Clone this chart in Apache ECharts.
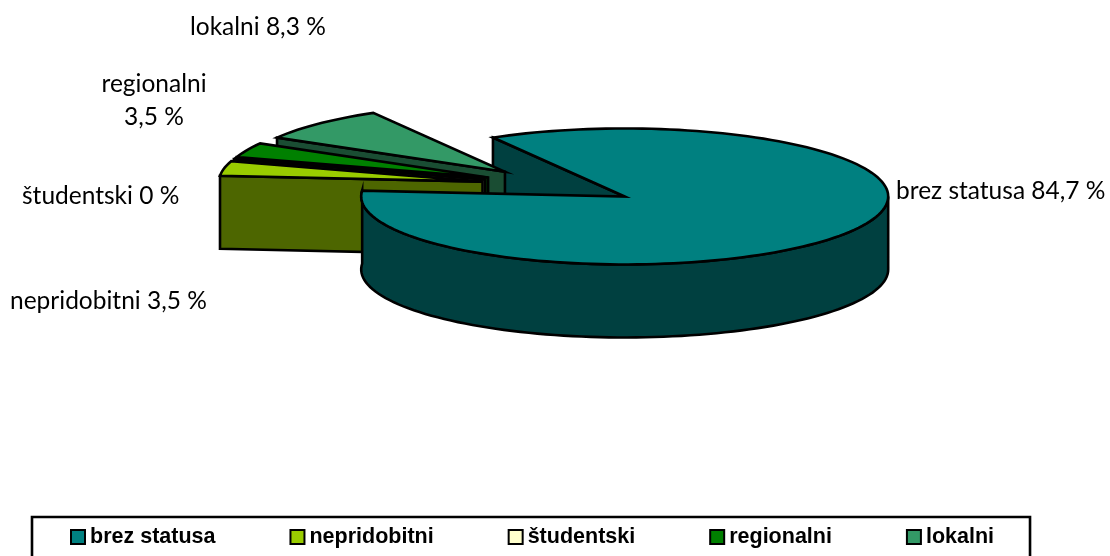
<!DOCTYPE html>
<html><head><meta charset="utf-8">
<style>html,body{margin:0;padding:0;background:#fff}#c{width:1110px;height:556px}</style>
<script src="https://cdn.jsdelivr.net/npm/echarts@6/dist/echarts.min.js"></script>
</head><body><div id="c"></div>
<script>
const categories = ['brez statusa', 'nepridobitni', 'študentski', 'regionalni', 'lokalni'];
const values = [84.7, 3.5, 0, 3.5, 8.3];
const valueLabels = ['84,7 %', '3,5 %', '0 %', '3,5 %', '8,3 %'];

const topColors = ['#008080', '#99CC00', '#FFFFCC', '#008000', '#339966'];
const wallColors = ['#004040', '#4D6600', '#808066', '#004000', '#1A4D33'];
const explode = [0.3, 0.292, 0.29, 0.29, 0.285];
const CENTER = [558, 185.5], RX = 263.5, RY = 68, DEPTH = 73, START = 120;
const labelSpec = [
  {x: 896, y: 191, align: 'left', sep: ' '},
  {x: 10, y: 301, align: 'left', sep: ' '},
  {x: 22, y: 196, align: 'left', sep: ' '},
  {x: 154, y: 100.5, align: 'center', sep: '\n'},
  {x: 190, y: 27, align: 'left', sep: ' '}
];
const total = values.reduce((a, b) => a + b, 0);
const spans = [];
values.reduce((acc, v, i) => { const next = acc - v / total * 360; spans[i] = [acc, next]; return next; }, START);

const ell = (c, deg, dy) => [c[0] + RX * Math.cos(deg * Math.PI / 180), c[1] - RY * Math.sin(deg * Math.PI / 180) + (dy || 0)];
function arc(c, a0, a1, dy) {
  const n = Math.max(1, Math.ceil(Math.abs(a1 - a0) / 2)), pts = [];
  for (let k = 0; k <= n; k++) pts.push(ell(c, a0 + (a1 - a0) * k / n, dy));
  return pts;
}
const poly = (points, fill, z2) => ({type: 'polygon', z2, shape: {points},
  style: {fill, stroke: '#000', lineWidth: 2.6, lineJoin: 'miter'}});

function renderSlice(i) {
  return function (params, api) {
    const v = api.value(0);
    const [a0, a1] = spans[i];
    const mid = (a0 + a1) / 2 * Math.PI / 180;
    const c = [CENTER[0] + explode[i] * RX * Math.cos(mid), CENTER[1] - explode[i] * RY * Math.sin(mid)];
    const topPts = [c].concat(arc(c, a0, a1));
    const children = [];
    if (i === 0) {
      const p = ell(c, a0);
      children.push(poly([c, p, [p[0], p[1] + DEPTH], [c[0], c[1] + DEPTH]], wallColors[0], 1));
      const outer = arc(c, a1 + 360, 360);
      const outerLow = outer.map(q => [q[0], q[1] + DEPTH]).reverse();
      children.push(poly(outer.concat(outerLow), wallColors[0], 100));
      children.push(poly(topPts, topColors[0], 101));
    } else {
      const base = (5 - i) * 10 + 10;   // paint order: far slices first
      const p = ell(c, a0);
      children.push(poly([c, p, [p[0], p[1] + DEPTH], [c[0], c[1] + DEPTH]], wallColors[i], base));
      if (v > 0) children.push(poly(topPts, topColors[i], base + 1));
      else children.push({type: 'polyline', z2: base + 1, shape: {points: topPts}, style: {stroke: '#000', lineWidth: 2.6, fill: null}});
    }
    const L = labelSpec[i];
    children.push({type: 'text', z2: 200, x: L.x, y: L.y, style: {
      text: categories[i] + L.sep + valueLabels[i], fill: '#000', font: '24.5px Lato',
      align: L.align, verticalAlign: 'middle', lineHeight: 33}});
    return {type: 'group', children};
  };
}

const chart = echarts.init(document.getElementById('c'), null, {renderer: 'canvas'});
chart.setOption({
  animation: false,
  legend: {
    data: categories.map((name, i) => ({name, icon: 'rect', itemStyle: {color: topColors[i], borderColor: '#000', borderWidth: 2}})),
    left: 32, top: 517, orient: 'horizontal',
    itemWidth: 14, itemHeight: 14, itemGap: 74,
    padding: [9, 36, 13, 38],
    borderColor: '#000', borderWidth: 2.6, borderRadius: 0,
    selectedMode: false,
    textStyle: {fontFamily: 'Liberation Sans', fontWeight: 'bold', fontSize: 21.5, color: '#000', padding: [2, 0, 0, 0]}
  },
  series: categories.map((name, i) => ({
    type: 'custom', name, coordinateSystem: 'none', silent: true, clip: false,
    z: 2, itemStyle: {color: topColors[i]},
    data: [[values[i]]], renderItem: renderSlice(i)
  }))
});
</script></body></html>
